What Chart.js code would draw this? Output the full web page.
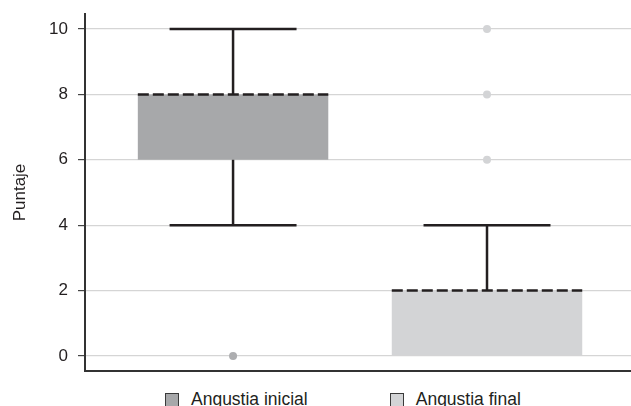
<!DOCTYPE html>
<html>
<head>
<meta charset="utf-8">
<script src="https://cdn.jsdelivr.net/npm/chart.js@4/dist/chart.umd.min.js"></script>
<style>
  html, body { margin: 0; padding: 0; background: #fff; }
  #wrap { position: relative; width: 631px; height: 406px; overflow: hidden; }
  #chart-box { position: absolute; left: 0; top: 0; width: 635px; height: 375px; }
  #legend { position: absolute; left: 165px; top: 389px; display: flex; align-items: center;
            font: 17.5px "Liberation Sans", Arial, sans-serif; color: #231f20; }
  #legend .item { display: flex; align-items: center; margin-right: 82px; white-space: nowrap; }
  #legend .swatch { width: 12px; height: 12px; border: 1.5px solid #3a3a3a; margin-right: 12px; }
</style>
</head>
<body>
<div id="wrap">
  <div id="chart-box"><canvas id="chart"></canvas></div>
  <div id="legend"></div>
</div>
<script>
'use strict';

// groups and box statistics
var groups = ['Angustia inicial', 'Angustia final'];
var xPositions = [1, 2];
var whiskerLow = [4, 0];
var q1 = [6, 0];
var median = [8, 2];
var q3 = [8, 2];
var whiskerHigh = [10, 4];
var outliers = [[0], [6, 8, 10]];
var yTicks = [0, 2, 4, 6, 8, 10];

var boxColors = ['#a7a8aa', '#d3d4d6'];
var outlierColors = ['#adaeb0', '#d3d4d6'];
var ink = '#231f20';

Chart.defaults.font.family = '"Liberation Sans", Arial, sans-serif';
Chart.defaults.color = ink;

function boxDatasets() {
  return groups.map(function(name, i) {
    return {
      type: 'bar',
      label: name,
      data: [{x: xPositions[i], y: [q1[i], q3[i]]}],
      backgroundColor: boxColors[i],
      borderWidth: 0,
      grouped: false,
      categoryPercentage: 1,
      barPercentage: 0.75,
      order: 2
    };
  });
}

function outlierDatasets() {
  return groups.map(function(name, i) {
    return {
      type: 'scatter',
      label: name + ' (atípicos)',
      data: outliers[i].map(function(v) { return {x: xPositions[i], y: v}; }),
      pointRadius: 4,
      pointBackgroundColor: outlierColors[i],
      pointBorderWidth: 0,
      order: 0
    };
  });
}

// whiskers, caps and dashed medians, placed through the chart scales
var whiskerPlugin = {
  id: 'whiskers',
  afterDatasetsDraw: function(chart) {
    var ctx = chart.ctx;
    var xs = chart.scales.x;
    var ys = chart.scales.y;
    ctx.save();
    ctx.strokeStyle = ink;
    ctx.lineWidth = 2.5;
    groups.forEach(function(name, i) {
      var cx = xs.getPixelForValue(xPositions[i]);
      var capL = xs.getPixelForValue(xPositions[i] - 0.25);
      var capR = xs.getPixelForValue(xPositions[i] + 0.25);
      var boxL = xs.getPixelForValue(xPositions[i] - 0.375);
      var boxR = xs.getPixelForValue(xPositions[i] + 0.375);

      ctx.setLineDash([]);
      ctx.beginPath();
      if (whiskerHigh[i] > q3[i]) {
        ctx.moveTo(cx, ys.getPixelForValue(q3[i]));
        ctx.lineTo(cx, ys.getPixelForValue(whiskerHigh[i]));
        ctx.moveTo(capL, ys.getPixelForValue(whiskerHigh[i]));
        ctx.lineTo(capR, ys.getPixelForValue(whiskerHigh[i]));
      }
      if (whiskerLow[i] < q1[i]) {
        ctx.moveTo(cx, ys.getPixelForValue(q1[i]));
        ctx.lineTo(cx, ys.getPixelForValue(whiskerLow[i]));
        ctx.moveTo(capL, ys.getPixelForValue(whiskerLow[i]));
        ctx.lineTo(capR, ys.getPixelForValue(whiskerLow[i]));
      }
      ctx.stroke();

      ctx.setLineDash([11, 4]);
      ctx.beginPath();
      ctx.moveTo(boxL, ys.getPixelForValue(median[i]));
      ctx.lineTo(boxR, ys.getPixelForValue(median[i]));
      ctx.stroke();
    });
    ctx.restore();
  }
};

// legend as html, built from the chart's own legend items
var htmlLegendPlugin = {
  id: 'htmlLegend',
  afterUpdate: function(chart) {
    var el = document.getElementById('legend');
    el.innerHTML = '';
    var items = chart.options.plugins.legend.labels.generateLabels(chart);
    items.filter(function(item) {
      return item.datasetIndex < groups.length;
    }).forEach(function(item) {
      var row = document.createElement('div');
      row.className = 'item';
      var swatch = document.createElement('span');
      swatch.className = 'swatch';
      swatch.style.background = item.fillStyle;
      var text = document.createElement('span');
      text.textContent = item.text;
      row.appendChild(swatch);
      row.appendChild(text);
      el.appendChild(row);
    });
  }
};

var chart = new Chart(document.getElementById('chart').getContext('2d'), {
  type: 'bar',
  data: {
    datasets: boxDatasets().concat(outlierDatasets())
  },
  options: {
    responsive: true,
    maintainAspectRatio: false,
    animation: false,
    events: [],
    layout: {padding: {top: 14, right: 0, bottom: 2, left: 0}},
    plugins: {
      legend: {display: false},
      tooltip: {enabled: false}
    },
    scales: {
      x: {
        type: 'linear',
        offset: false,
        min: 0.417,
        max: 2.567,
        afterBuildTicks: function(scale) {
          scale.ticks = xPositions.map(function(v) { return {value: v}; });
        },
        afterFit: function(scale) {
          scale.height = 0;
          scale.paddingLeft = 0;
          scale.paddingRight = 0;
        },
        ticks: {display: false},
        grid: {display: false, drawTicks: false, offset: false},
        border: {display: true, color: '#333', width: 2}
      },
      y: {
        min: -0.46,
        max: 10.46,
        afterBuildTicks: function(scale) {
          scale.ticks = yTicks.map(function(v) { return {value: v}; });
        },
        afterFit: function(scale) {
          scale.width = 85;
          scale.paddingTop = 0;
          scale.paddingBottom = 0;
        },
        ticks: {
          font: {size: 17},
          color: ink,
          padding: 10
        },
        grid: {
          color: '#d5d5d5',
          lineWidth: 1.2,
          tickColor: '#444',
          tickLength: 7
        },
        border: {display: true, color: '#333', width: 2},
        title: {
          display: true,
          text: 'Puntaje',
          font: {size: 17},
          color: ink,
          padding: {top: 10, bottom: 0}
        }
      }
    }
  },
  plugins: [whiskerPlugin, htmlLegendPlugin]
});
</script>
</body>
</html>
